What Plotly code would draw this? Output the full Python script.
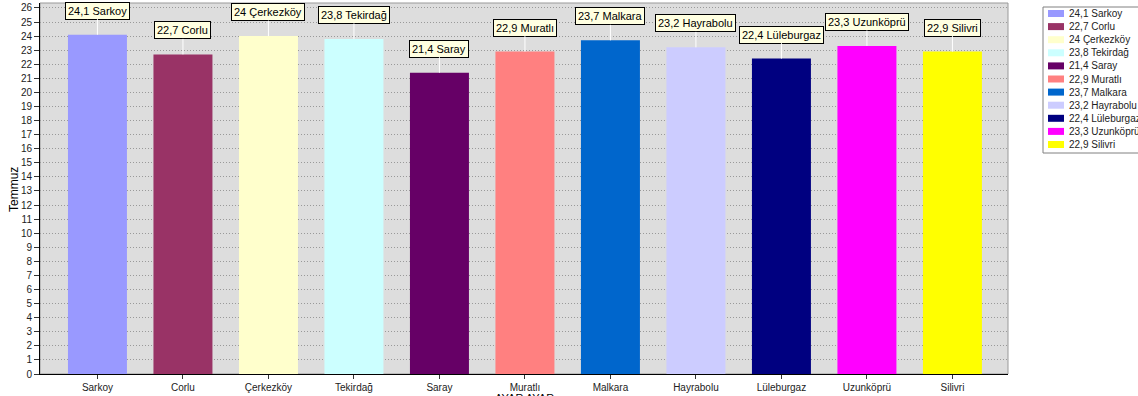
import plotly.graph_objects as go

categories = ["Sarkoy", "Corlu", "Çerkezköy", "Tekirdağ", "Saray", "Muratlı",
              "Malkara", "Hayrabolu", "Lüleburgaz", "Uzunköprü", "Silivri"]
values = [24.1, 22.7, 24.0, 23.8, 21.4, 22.9, 23.7, 23.2, 22.4, 23.3, 22.9]
colors = ["#9999ff", "#993366", "#ffffcc", "#ccffff", "#660066", "#ff8080",
          "#0066cc", "#ccccff", "#000080", "#ff00ff", "#ffff00"]
y_ticks = list(range(0, 27))
y_title = "Temmuz"
x_title = "AYAR AYAR"

FONT = "Liberation Sans, Arial, sans-serif"
W, H = 1138, 396
L, R, T, B = 40, 130, 3, 22
PW, PH = W - L - R, H - T - B


def fmt(v):
    return str(int(v)) if float(v).is_integer() else str(v).replace(".", ",")


labels = [f"{fmt(v)} {c}" for v, c in zip(values, categories)]

fig = go.Figure()
for c, v, col, lab in zip(categories, values, colors, labels):
    fig.add_trace(go.Bar(x=[c], y=[v], name=lab, marker=dict(color=col, line=dict(width=0)),
                         width=0.69, showlegend=False, hoverinfo="skip"))

annotations = []
for c, v, lab in zip(categories, values, labels):
    annotations.append(dict(
        x=c, y=v, xref="x", yref="y", text=lab, showarrow=True,
        arrowhead=0, arrowcolor="white", arrowwidth=1, ax=0, ay=-24,
        bgcolor="#ffffe1", bordercolor="#000000", borderwidth=1, borderpad=2,
        font=dict(family=FONT, size=11, color="#000000")))

# y-axis title
annotations.append(dict(x=(14 - L) / PW, y=(374 - 190) / PH, xref="paper", yref="paper",
                        xanchor="center", yanchor="middle",
                        text=y_title, textangle=-90, showarrow=False,
                        font=dict(family=FONT, size=12, color="#000000")))
# x-axis title (mostly cut off at bottom)
annotations.append(dict(x=0.5, y=-(390 - 374) / PH, xref="paper", yref="paper",
                        yanchor="top", text=x_title, showarrow=False,
                        font=dict(family=FONT, size=11, color="#000000")))

shapes = [dict(type="rect", xref="paper", yref="paper", x0=0, y0=0, x1=1, y1=1,
               line=dict(color="#999999", width=1), layer="below")]


def px_x(px):
    return (px - L) / PW


def px_y(py):
    return (H - B - py) / PH


# manual legend
shapes.append(dict(type="rect", xref="paper", yref="paper",
                   x0=px_x(1043), x1=px_x(1150), y0=px_y(153), y1=px_y(7),
                   line=dict(color="#808080", width=1), fillcolor="white"))
for i, (col, lab) in enumerate(zip(colors, labels)):
    cy = 13.5 + 13.1 * i
    shapes.append(dict(type="rect", xref="paper", yref="paper",
                       x0=px_x(1048), x1=px_x(1064), y0=px_y(cy + 3.5), y1=px_y(cy - 3.5),
                       line=dict(width=0), fillcolor=col))
    annotations.append(dict(x=px_x(1067), y=px_y(cy), xref="paper", yref="paper",
                            xanchor="left", yanchor="middle", text=lab, showarrow=False,
                            font=dict(family=FONT, size=10, color="#222222")))

fig.update_layout(
    width=W, height=H,
    margin=dict(l=L, r=R, t=T, b=B),
    paper_bgcolor="white", plot_bgcolor="#dddddd",
    bargap=0.3, showlegend=False,
    annotations=annotations, shapes=shapes,
    font=dict(family=FONT, size=10, color="#222222"),
)
fig.update_xaxes(
    range=[-0.672, 10.65], showline=True, linecolor="#000000", linewidth=1,
    ticks="outside", ticklen=4, tickcolor="#333333", showgrid=False,
    tickfont=dict(family=FONT, size=10, color="#222222"), fixedrange=True,
)
fig.update_yaxes(
    range=[0, 26.35], tickvals=y_ticks, ticktext=[str(t) for t in y_ticks],
    showline=True, linecolor="#000000", linewidth=1,
    ticks="outside", ticklen=5, tickcolor="#333333",
    showgrid=True, gridcolor="#999999", griddash="1px,2px", gridwidth=1,
    zeroline=False, tickfont=dict(family=FONT, size=10, color="#222222"), fixedrange=True,
)

fig.write_html("out.html")
